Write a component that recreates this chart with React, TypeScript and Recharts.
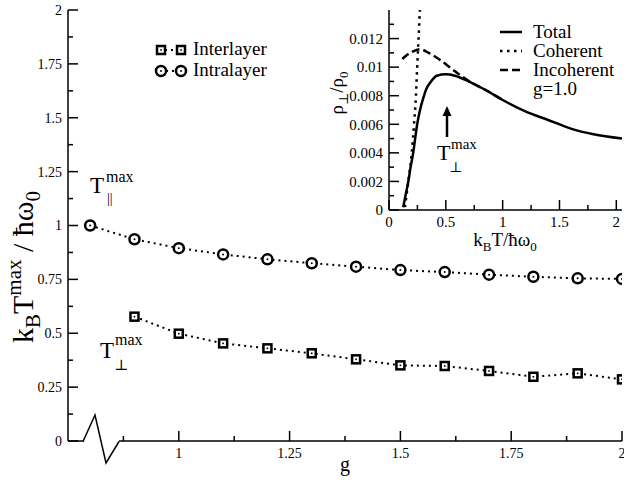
import React from 'react';
import { LineChart, Line, XAxis, YAxis } from 'recharts';

const SERIF = "'Liberation Serif', 'DejaVu Serif', serif";

// main panel: T^max vs g
const G_INTRA = [0.8, 0.9, 1.0, 1.1, 1.2, 1.3, 1.4, 1.5, 1.6, 1.7, 1.8, 1.9, 2.0];
const T_INTRA = [1.0, 0.936, 0.895, 0.866, 0.843, 0.825, 0.809, 0.793, 0.784, 0.772, 0.762, 0.755, 0.752];
const G_INTER = [0.9, 1.0, 1.1, 1.2, 1.3, 1.4, 1.5, 1.6, 1.7, 1.8, 1.9, 2.0];
const T_INTER = [0.577, 0.498, 0.453, 0.43, 0.407, 0.379, 0.351, 0.348, 0.325, 0.298, 0.314, 0.286];

const G_TICKS = [0.875, 1, 1.125, 1.25, 1.375, 1.5, 1.625, 1.75, 1.875, 2];
const G_LABELS = [1, 1.25, 1.5, 1.75, 2];
const K_TICKS = [0, 0.125, 0.25, 0.375, 0.5, 0.625, 0.75, 0.875, 1, 1.125, 1.25, 1.375, 1.5, 1.625, 1.75, 1.875, 2];
const K_LABELS = [0, 0.25, 0.5, 0.75, 1, 1.25, 1.5, 1.75, 2];

// inset: resistivity vs temperature, g=1.0
const T_TOTAL = [0.125, 0.15, 0.17, 0.19, 0.213, 0.23, 0.248, 0.27, 0.3, 0.33, 0.37, 0.42, 0.5, 0.58, 0.7, 0.85, 1.0, 1.2, 1.4, 1.6, 1.8, 2.05];
const R_TOTAL = [0.0002, 0.0012, 0.002, 0.003, 0.004, 0.005, 0.006, 0.0069, 0.0078, 0.0085, 0.009, 0.0094, 0.0095, 0.0094, 0.009, 0.0084, 0.0077, 0.0069, 0.0063, 0.0057, 0.0053, 0.005];
const T_COH = [0.14, 0.17, 0.2, 0.22, 0.237, 0.248, 0.26, 0.272, 0.28];
const R_COH = [0.0002, 0.002, 0.004, 0.006, 0.008, 0.01, 0.012, 0.014, 0.0152];
const T_INCOH = [0.117, 0.15, 0.2, 0.27, 0.35, 0.45, 0.55, 0.65, 0.75, 0.85, 1.0];
const R_INCOH = [0.01057, 0.0108, 0.01105, 0.01126, 0.011, 0.0105, 0.0099, 0.0093, 0.0088, 0.0084, 0.0077];

const TT_TICKS = [0, 0.25, 0.5, 0.75, 1, 1.25, 1.5, 1.75, 2];
const TT_LABELS = [0, 0.5, 1, 1.5, 2];
const RHO_TICKS = [0, 0.001, 0.002, 0.003, 0.004, 0.005, 0.006, 0.007, 0.008, 0.009, 0.01, 0.011, 0.012, 0.013];
const RHO_LABELS = [0, 0.002, 0.004, 0.006, 0.008, 0.01, 0.012];

const zip = (xs: number[], ys: number[]) => xs.map((x, i) => ({ x, y: ys[i] }));

const intraData = zip(G_INTRA, T_INTRA);
const interData = zip(G_INTER, T_INTER);
const totalData = zip(T_TOTAL, R_TOTAL);
const cohData = zip(T_COH, R_COH);
const incohData = zip(T_INCOH, R_INCOH);

const Square = ({ cx, cy }: { cx: number; cy: number }) => (
  <g>
    <rect x={cx - 4} y={cy - 4} width={8} height={8} fill="#fff" stroke="#000" strokeWidth={2.5} />
    <rect x={cx - 0.8} y={cy - 0.8} width={1.6} height={1.6} fill="#000" />
  </g>
);

const Ring = ({ cx, cy }: { cx: number; cy: number }) => (
  <g>
    <circle cx={cx} cy={cy} r={5} fill="#fff" stroke="#000" strokeWidth={2.5} />
    <circle cx={cx} cy={cy} r={1} fill="#000" />
  </g>
);

// inward xmgrace-style ticks, labels only on majors
const makeTick = (side: string, labels: number[], fontSize = 14) => (props: any) => {
  const { x, y, payload } = props;
  const v = payload.value;
  const major = labels.some((l) => Math.abs(l - v) < 1e-9);
  const len = major ? 10 : 5;
  const lineProps = { stroke: '#000', strokeWidth: 1.5 };
  const txt = { style: { fontFamily: SERIF, fontSize }, fill: '#000' };
  if (side === 'bottom') {
    return (
      <g>
        <line x1={x} x2={x} y1={y} y2={y - len} {...lineProps} />
        {major && <text x={x} y={y + 17} textAnchor="middle" {...txt}>{String(v)}</text>}
      </g>
    );
  }
  if (side === 'top') return <line x1={x} x2={x} y1={y} y2={y + len} {...lineProps} />;
  if (side === 'left') {
    return (
      <g>
        <line x1={x} x2={x + len} y1={y} y2={y} {...lineProps} />
        {major && <text x={x - 6} y={y} dy="0.35em" textAnchor="end" {...txt}>{String(v)}</text>}
      </g>
    );
  }
  return <line x1={x} x2={x - len} y1={y} y2={y} {...lineProps} />;
};

const axisLine = { stroke: '#000', strokeWidth: 1.5 };

const MainChart = () => (
  <LineChart width={624} height={480} margin={{ top: 10, right: 2, bottom: 0, left: 8 }}>
    <XAxis type="number" dataKey="x" domain={[0.75, 2]} allowDataOverflow ticks={G_TICKS} interval={0}
      height={39} tickSize={0} tickMargin={0} tickLine={false} axisLine={axisLine} tick={makeTick('bottom', G_LABELS)} />
    <XAxis xAxisId="top" orientation="top" type="number" dataKey="x" domain={[0.75, 2]} allowDataOverflow ticks={G_TICKS} interval={0}
      height={0} tickSize={0} tickMargin={0} tickLine={false} axisLine={axisLine} tick={makeTick('top', G_LABELS)} />
    <YAxis type="number" domain={[0, 2]} allowDataOverflow ticks={K_TICKS} interval={0}
      width={60} tickSize={0} tickMargin={0} tickLine={false} axisLine={axisLine} tick={makeTick('left', K_LABELS)} />
    <YAxis yAxisId="right" orientation="right" type="number" domain={[0, 2]} allowDataOverflow ticks={K_TICKS} interval={0}
      width={0} tickSize={0} tickMargin={0} tickLine={false} axisLine={axisLine} tick={makeTick('right', K_LABELS)} />
    <Line data={intraData} dataKey="y" stroke="#000" strokeWidth={2} strokeDasharray="2 4" isAnimationActive={false}
      dot={(p: any) => <Ring key={`c${p.index}`} cx={p.cx} cy={p.cy} />} />
    <Line data={interData} dataKey="y" stroke="#000" strokeWidth={2} strokeDasharray="2 4" isAnimationActive={false}
      dot={(p: any) => <Square key={`s${p.index}`} cx={p.cx} cy={p.cy} />} />
  </LineChart>
);

const InsetChart = () => (
  <LineChart width={294} height={260} margin={{ top: 10, right: 2, bottom: 0, left: 0 }}>
    <XAxis type="number" dataKey="x" domain={[0, 2.05]} allowDataOverflow ticks={TT_TICKS} interval={0}
      height={50} tickSize={0} tickMargin={0} tickLine={false} axisLine={axisLine} tick={makeTick('bottom', TT_LABELS, 15)} />
    <XAxis xAxisId="top" orientation="top" type="number" dataKey="x" domain={[0, 2.05]} allowDataOverflow ticks={TT_TICKS} interval={0}
      height={0} tickSize={0} tickMargin={0} tickLine={false} axisLine={axisLine} tick={makeTick('top', TT_LABELS)} />
    <YAxis type="number" domain={[0, 0.014]} allowDataOverflow ticks={RHO_TICKS} interval={0}
      width={59} tickSize={0} tickMargin={0} tickLine={false} axisLine={axisLine} tick={makeTick('left', RHO_LABELS, 15)} />
    <YAxis yAxisId="right" orientation="right" type="number" domain={[0, 0.014]} allowDataOverflow ticks={RHO_TICKS} interval={0}
      width={0} tickSize={0} tickMargin={0} tickLine={false} axisLine={axisLine} tick={makeTick('right', RHO_LABELS)} />
    <Line data={incohData} dataKey="y" type="monotone" stroke="#000" strokeWidth={2.5} strokeDasharray="8 4" dot={false} isAnimationActive={false} />
    <Line data={cohData} dataKey="y" type="monotone" stroke="#000" strokeWidth={2.5} strokeDasharray="2.5 4.5" dot={false} isAnimationActive={false} />
    <Line data={totalData} dataKey="y" type="monotone" stroke="#000" strokeWidth={2.5} dot={false} isAnimationActive={false} />
  </LineChart>
);

const T = ({ x, y, size, children, anchor, transform }: any) => (
  <text x={x} y={y} transform={transform} textAnchor={anchor} fill="#000" style={{ fontFamily: SERIF, fontSize: size }}>{children}</text>
);

const Overlay = () => (
  <svg width={624} height={480} style={{ position: 'absolute', left: 0, top: 0, pointerEvents: 'none' }}>
    {/* axis break on the main x axis */}
    <rect x={84} y={438} width={35} height={7} fill="#fff" />
    <polyline points="83,441.5 95,415 106,463 119,441.5" fill="none" stroke="#000" strokeWidth={1.5} />

    {/* main legend */}
    <line x1={165} x2={176} y1={50} y2={50} stroke="#000" strokeWidth={2} strokeDasharray="2 4" />
    <Square cx={161} cy={50} />
    <Square cx={181} cy={50} />
    <T x={193} y={55} size={19}>Interlayer</T>
    <line x1={166} x2={176} y1={71} y2={71} stroke="#000" strokeWidth={2} strokeDasharray="2 4" />
    <Ring cx={161} cy={71} />
    <Ring cx={181} cy={71} />
    <T x={193} y={76} size={19}>Intralayer</T>

    {/* main annotations */}
    <T x={90} y={193} size={23}>T</T>
    <T x={106} y={182} size={16}>max</T>
    <T x={107} y={203} size={14}>||</T>
    <T x={100} y={358} size={23}>T</T>
    <T x={115} y={345} size={16}>max</T>
    <T x={114} y={370} size={15}>⊥</T>

    {/* main axis titles */}
    <T x={345} y={471} size={20} anchor="middle">g</T>
    <T x={0} y={0} size={30} anchor="middle" transform="translate(33,267) rotate(-90)">
      k<tspan style={{ fontSize: 21 }} dy={7}>B</tspan><tspan dy={-7}>T</tspan>
      <tspan style={{ fontSize: 21 }} dy={-12}>max</tspan><tspan dy={12}> / ħω</tspan>
      <tspan style={{ fontSize: 21 }} dy={7}>0</tspan>
    </T>

    {/* inset legend */}
    <line x1={500} x2={522} y1={32} y2={32} stroke="#000" strokeWidth={2.5} />
    <T x={533} y={37.5} size={19}>Total</T>
    <line x1={500} x2={522} y1={51} y2={51} stroke="#000" strokeWidth={2.5} strokeDasharray="2.5 4.5" />
    <T x={533} y={56.5} size={19}>Coherent</T>
    <line x1={500} x2={524} y1={70} y2={70} stroke="#000" strokeWidth={2.5} strokeDasharray="8 4" />
    <T x={533} y={75.5} size={19}>Incoherent</T>
    <T x={533} y={94.5} size={19}>g=1.0</T>

    {/* inset arrow and label */}
    <line x1={447} x2={447} y1={137} y2={114} stroke="#000" strokeWidth={2.5} />
    <polygon points="447,106 442.5,116 451.5,116" fill="#000" />
    <T x={437} y={160} size={22}>T</T>
    <T x={451} y={149} size={15}>max</T>
    <T x={449} y={172} size={14}>⊥</T>

    {/* inset axis titles */}
    <T x={505} y={246} size={19} anchor="middle">
      k<tspan style={{ fontSize: 13 }} dy={5}>B</tspan><tspan dy={-5}>T/ħω</tspan><tspan style={{ fontSize: 13 }} dy={5}>0</tspan>
    </T>
    <T x={0} y={0} size={19} anchor="middle" transform="translate(343,93) rotate(-90)">
      ρ<tspan style={{ fontSize: 13 }} dy={5}>⊥</tspan><tspan dy={-5}>/ρ</tspan><tspan style={{ fontSize: 13 }} dy={5}>0</tspan>
    </T>
  </svg>
);

export default function App() {
  return (
    <div style={{ position: 'absolute', left: 0, top: 0, width: 624, height: 480, background: '#fff', fontFamily: SERIF }}>
      <div style={{ position: 'absolute', left: 0, top: 0 }}>
        <MainChart />
      </div>
      <div style={{ position: 'absolute', left: 389, top: 10, width: 233, height: 200, background: '#fff' }} />
      <div style={{ position: 'absolute', left: 330, top: 0 }}>
        <InsetChart />
      </div>
      <Overlay />
    </div>
  );
}
